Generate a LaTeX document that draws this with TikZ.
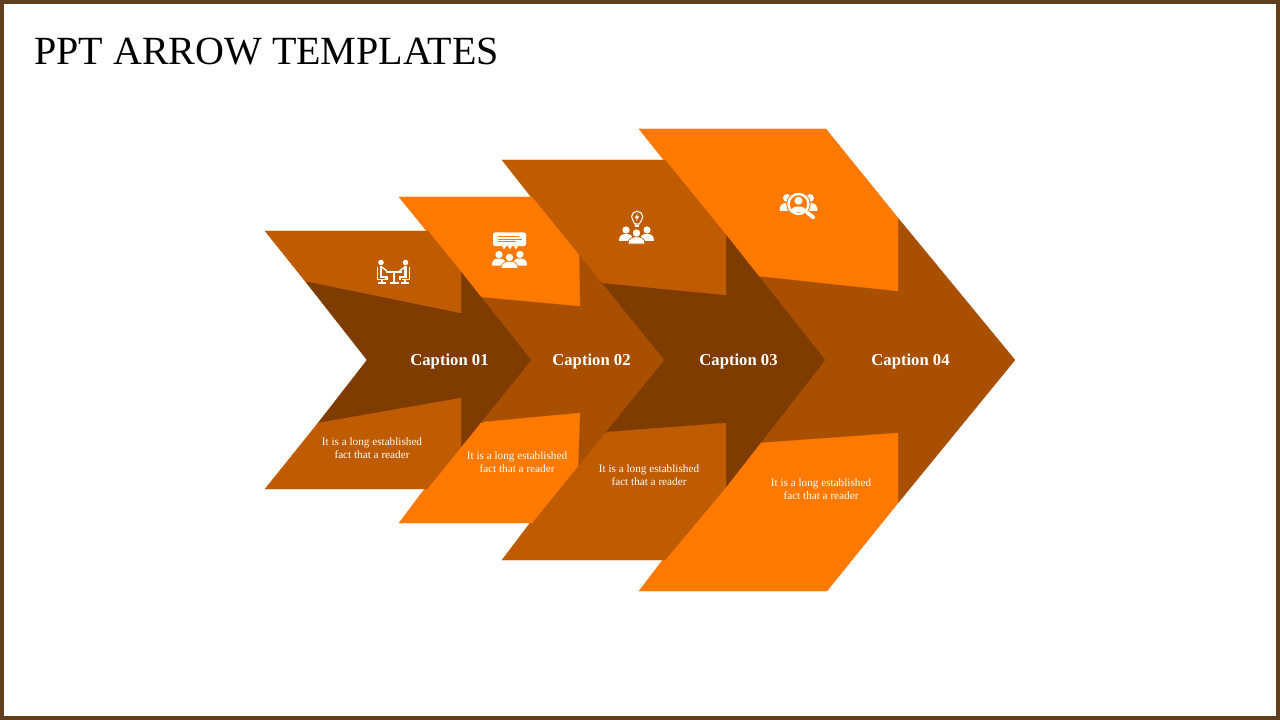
\documentclass[tikz,border=0pt]{standalone}
\usepackage{fontspec}
\setmainfont{Liberation Serif}
\usepackage{tikz}

\definecolor{framebrown}{HTML}{60401F}
\definecolor{darkbody}{HTML}{7F3C00}
\definecolor{midbody}{HTML}{A85000}
\definecolor{flapbrown}{HTML}{BF5B00}
\definecolor{flaporange}{HTML}{FD7900}

\tikzset{
    body1/.style={fill=darkbody,draw=darkbody,line width=0.2pt},
    body2/.style={fill=midbody,draw=midbody,line width=0.2pt},
    flap1/.style={fill=flapbrown,draw=flapbrown,line width=0.2pt},
    flap2/.style={fill=flaporange,draw=flaporange,line width=0.2pt},
    captiontxt/.style={text=white,font=\fontsize{12.5}{14}\selectfont\bfseries,inner sep=0pt},
    smalltxt/.style={text=white,font=\fontsize{8.4}{9.75}\selectfont,align=center,inner sep=0pt},
}

% three people, #1 #2 = head of the middle one, #3 = colour behind
\newcommand{\crowdicon}[3]{
    \begin{scope}[shift={(#1,#2)}]
        \fill[white] (-10.5,-3) circle (3.6) (10.5,-3) circle (3.6);
        \fill[white] (-17.5,8) .. controls (-17.5,2.5) and (-15,1) .. (-10.5,1) .. controls (-6,1) and (-3.5,2.5) .. (-3.5,8) -- cycle;
        \fill[white] (3.5,8) .. controls (3.5,2.5) and (6,1) .. (10.5,1) .. controls (15,1) and (17.5,2.5) .. (17.5,8) -- cycle;
        \fill[white,draw=#3,line width=0.5pt] (-8.5,11) .. controls (-8.5,5.5) and (-5,3.8) .. (0,3.8) .. controls (5,3.8) and (8.5,5.5) .. (8.5,11) -- cycle;
        \fill[white] (0,0) circle (3.7);
    \end{scope}
}

\begin{document}
\begin{tikzpicture}[x=0.75pt,y=-0.75pt]
    \useasboundingbox (0,0) rectangle (1280,720);
    \draw[framebrown,line width=3pt] (2,2) rectangle (1278,718);

    % arrow 4
    \draw[body2] (745,276) -- (898,218) -- (1015,360) -- (898,503) -- (745,443) -- (790,360) -- cycle;
    \draw[flap2] (639,129) -- (826,129) -- (898,218) -- (898,291) -- (758,276) -- (750,268) -- cycle;
    \draw[flap2] (639,591) -- (827,591) -- (898,503) -- (898,433) -- (760,443) -- (745,450) -- (720,485) -- cycle;
    % arrow 3
    \draw[body1] (595,283) -- (726,235) -- (825,360) -- (726,487) -- (600,432) -- (640,360) -- cycle;
    \draw[flap1] (502,160) -- (665,160) -- (726,235) -- (726,295) -- (603,283) -- (590,272) -- cycle;
    \draw[flap1] (502,560) -- (665,560) -- (726,487) -- (726,423) -- (608,432) -- (595,440) -- (570,470) -- cycle;
    % arrow 2
    \draw[body2] (475,297) -- (579,255) -- (664,360) -- (578,466) -- (478,422) -- (505,360) -- cycle;
    \draw[flap2] (399,197) -- (532,197) -- (579,255) -- (580,306) -- (482,297) -- (472,287) -- cycle;
    \draw[flap2] (399,523) -- (532,523) -- (578,466) -- (580,413) -- (484,422) -- (470,430) -- (450,455) -- cycle;
    % arrow 1
    \draw[body1] (305,281) -- (461,272) -- (531,360) -- (461,447) -- (318,423) -- (367,360) -- cycle;
    \draw[flap1] (265,231) -- (428,231) -- (461,272) -- (461,313) -- (305,281) -- cycle;
    \draw[flap1] (265,489) -- (427,489) -- (461,447) -- (461,398) -- (318,423) -- cycle;

    \node[anchor=base west,inner sep=0pt,font=\fontsize{30}{36}\selectfont] (title) at (34,65) {PPT ARROW TEMPLATES};

    \node[captiontxt] (cap1) at (449.5,361.5) {Caption 01};
    \node[captiontxt] (cap2) at (591.5,361.5) {Caption 02};
    \node[captiontxt] (cap3) at (738.5,361.5) {Caption 03};
    \node[captiontxt] (cap4) at (910.5,361.5) {Caption 04};

    \node[smalltxt] (txt1) at (372,448) {It is a long established\\fact that a reader};
    \node[smalltxt] (txt2) at (517,462) {It is a long established\\fact that a reader};
    \node[smalltxt] (txt3) at (649,475) {It is a long established\\fact that a reader};
    \node[smalltxt] (txt4) at (821,489) {It is a long established\\fact that a reader};

    % icon 1, two people at a table
    \fill[white] (381,262.5) circle (2.8) (405.5,262.5) circle (2.8);
    \draw[white,line width=1.1pt] (386,272) -- (402,272) (394,272) -- (394,283) (389.5,283) -- (398.5,283);
    \draw[white,line width=2.2pt] (381,266) -- (381,277) -- (386.5,277) -- (386.5,280) (405.5,266) -- (405.5,277) -- (400,277) -- (400,280);
    \draw[white,line width=1.1pt] (381,266.5) -- (387,271) (405.5,266.5) -- (399.5,271);
    \draw[white,line width=0.9pt] (377.5,267) -- (377.5,279.5) -- (385,279.5) (382,279.5) -- (382,283) (378,283) -- (386,283);
    \draw[white,line width=0.9pt] (409.5,267) -- (409.5,279.5) -- (402,279.5) (405,279.5) -- (405,283) (401,283) -- (409,283);

    % icon 2, speech bubble
    \fill[white,rounded corners=1.5pt] (493,232.5) rectangle (526,246);
    \fill[white] (502,246) -- (506,246) -- (504,249.5) -- cycle (508,246) -- (512,246) -- (510,249.5) -- cycle (514,246) -- (518,246) -- (516,249.5) -- cycle;
    \draw[flaporange,line width=0.6pt] (498,236.5) -- (519,236.5) (498,239) -- (522,239) (498,241.5) -- (516,241.5);
    \crowdicon{509.5}{257.5}{flaporange}

    % icon 3, bulb
    \draw[white,line width=0.8pt] (634.8,224) -- (633,220.6) arc (138:402:5.6) -- (639.2,224) -- cycle;
    \draw[white,line width=0.8pt] (635,226) -- (639,226);
    \fill[white] (637.5,213.5) -- (634.8,218) -- (636.6,218) -- (636,221) -- (639.2,216.5) -- (637.3,216.5) -- cycle;
    \crowdicon{636.5}{233}{flapbrown}

    % icon 4, magnifier
    \fill[white] (787,198) circle (4) (810,198) circle (4);
    \fill[white] (779.5,211) .. controls (779.5,205) and (782,203) .. (787,203) .. controls (792,203) and (794,205) .. (794,211) -- cycle;
    \fill[white] (803,211) .. controls (803,205) and (805,203) .. (810,203) .. controls (815,203) and (817.5,205) .. (817.5,211) -- cycle;
    \draw[flaporange,line width=2.6pt,fill=flaporange] (798.5,204) circle (10.5);
    \fill[white] (798.5,200.7) circle (4);
    \fill[white] (791,212) .. controls (791,208) and (794,206.5) .. (798.5,206.5) .. controls (803,206.5) and (806,208) .. (806,212) -- cycle;
    \draw[white,line width=1.8pt] (798.5,204) circle (10);
    \draw[white,line width=2.8pt,line cap=round] (807,212.5) -- (813.5,217.5);
\end{tikzpicture}
\end{document}
